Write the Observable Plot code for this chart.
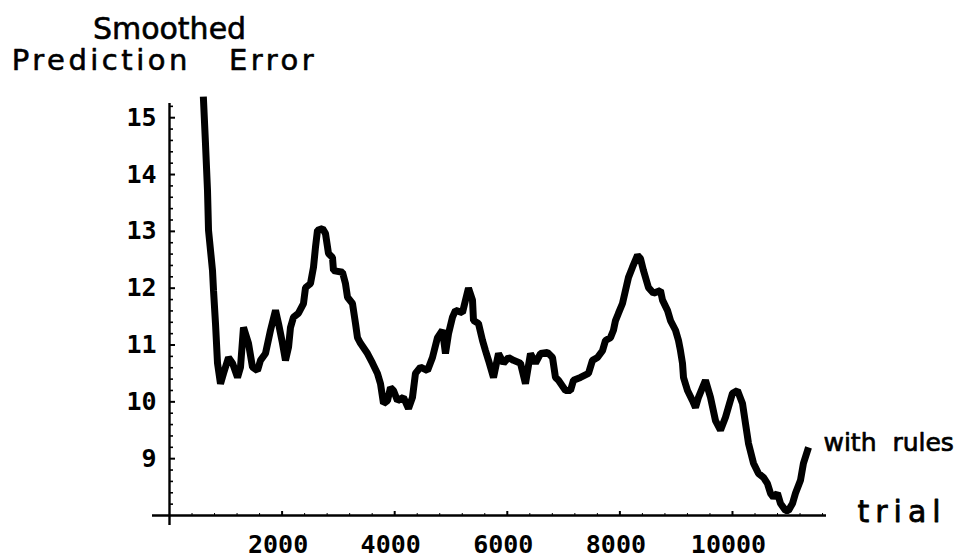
<!DOCTYPE html>
<html>
<head>
<meta charset="utf-8">
<script src="https://cdn.jsdelivr.net/npm/d3@7"></script>
<script src="https://cdn.jsdelivr.net/npm/@observablehq/plot@0.6"></script>
<style>
  html, body { margin: 0; padding: 0; background: #fff; }
  svg text { white-space: pre; }
  .trial-label text { letter-spacing: 6px; }
  .title2 text { letter-spacing: 3.5px; }
</style>
</head>
<body>
<div id="chart"></div>
<script>
// trial numbers and smoothed prediction error
const trials = [604, 639, 675, 693, 764, 782, 817, 853, 906, 959, 1048, 1119, 1208, 1261, 1314, 1403, 1474, 1563, 1616, 1705,
  1794, 1883, 1936, 2007, 2060, 2114, 2149, 2202, 2291, 2380, 2416, 2504, 2558, 2593, 2629, 2718, 2771, 2824, 2895, 2913,
  3073, 3126, 3162, 3250, 3304, 3339, 3393, 3517, 3606, 3694, 3748, 3801, 3872, 3925, 3979, 4050, 4156, 4245, 4316, 4369,
  4458, 4583, 4671, 4760, 4849, 4902, 4956, 5027, 5080, 5204, 5258, 5311, 5382, 5400, 5488, 5560, 5613, 5666, 5755, 5844,
  5933, 6021, 6110, 6234, 6323, 6412, 6501, 6590, 6714, 6803, 6856, 6909, 7034, 7123, 7176, 7300, 7442, 7513, 7602, 7691,
  7744, 7833, 7886, 7922, 7975, 8046, 8099, 8153, 8224, 8313, 8366, 8419, 8508, 8597, 8721, 8757, 8845, 8899, 8988, 9041,
  9076, 9112, 9130, 9201, 9290, 9343, 9396, 9520, 9609, 9698, 9787, 9876, 10000, 10089, 10178, 10231, 10284, 10373, 10462, 10551,
  10622, 10675, 10728, 10799, 10853, 10941, 10995, 11066, 11119, 11208, 11261, 11332];
const errors = [15.31, 14.55, 13.72, 13.02, 12.31, 11.96, 11.38, 10.68, 10.32, 10.50, 10.78, 10.68, 10.43, 10.61, 11.31, 11.03, 10.61, 10.55, 10.73, 10.85,
  11.26, 11.61, 11.38, 11.03, 10.73, 10.96, 11.31, 11.49, 11.56, 11.73, 12.01, 12.08, 12.37, 12.72, 13.02, 13.05, 12.96, 12.61, 12.54, 12.31,
  12.28, 12.08, 11.84, 11.73, 11.38, 11.13, 11.03, 10.85, 10.68, 10.50, 10.32, 9.97, 10.02, 10.25, 10.20, 10.02, 10.08, 9.88, 10.08, 10.50,
  10.61, 10.55, 10.78, 11.13, 11.26, 10.85, 11.20, 11.49, 11.61, 11.57, 11.79, 12.00, 11.79, 11.43, 11.38, 11.08, 10.90, 10.73, 10.43, 10.85,
  10.68, 10.78, 10.73, 10.68, 10.32, 10.85, 10.68, 10.85, 10.87, 10.78, 10.43, 10.38, 10.20, 10.20, 10.38, 10.43, 10.50, 10.73, 10.78, 10.90,
  11.08, 11.13, 11.26, 11.43, 11.56, 11.73, 11.96, 12.19, 12.37, 12.58, 12.52, 12.31, 12.01, 11.91, 11.96, 11.79, 11.61, 11.43, 11.26, 11.08,
  10.90, 10.68, 10.43, 10.20, 10.02, 9.90, 10.08, 10.38, 10.08, 9.67, 9.50, 9.73, 10.15, 10.20, 9.97, 9.62, 9.27, 8.92, 8.74, 8.67,
  8.56, 8.39, 8.32, 8.39, 8.21, 8.09, 8.09, 8.21, 8.39, 8.62, 8.92, 9.14];

const xTicks = [2000, 4000, 6000, 8000, 10000];
const yTicks = [9, 10, 11, 12, 13, 14, 15];
const yMinorTicks = [];
for (let k = 41; k <= 76; k++) { if (k % 5 !== 0) yMinorTicks.push(k / 5); }
const xMinorTicks = [];
for (let k = 1; k <= 29; k++) { if (k % 5 !== 0) xMinorTicks.push(k * 400); }

const titleLine1 = "Smoothed";
const titleLine2 = "Prediction   Error";
const xLabel = "trial";
const seriesLabel = "with  rules";

const data = trials.map((t, i) => ({trial: t, error: errors[i]}));
const last = [data[data.length - 1]];

const chart = Plot.plot({
  width: 959,
  height: 558,
  marginLeft: 169,
  marginRight: 133,
  marginTop: 103,
  marginBottom: 43,
  style: {background: "#fff", color: "#000", overflow: "visible"},
  x: {domain: [0, 11670]},
  y: {domain: [8, 15.25]},
  marks: [
    // axes lines
    Plot.ruleX([0], {stroke: "#000", strokeWidth: 2.4, insetBottom: -10}),
    Plot.ruleY([8], {stroke: "#000", strokeWidth: 2.4, insetLeft: -17}),
    // y ticks (inward)
    Plot.ruleY(yTicks, {x1: 0, x2: 0, insetRight: -6, stroke: "#000", strokeWidth: 2}),
    Plot.ruleY(yMinorTicks, {x1: 0, x2: 0, insetRight: -4, stroke: "#000", strokeWidth: 1.6}),
    // x ticks (inward)
    Plot.ruleX(xTicks, {y1: 8, y2: 8, insetTop: -4, stroke: "#000", strokeWidth: 2}),
    Plot.ruleX(xMinorTicks, {y1: 8, y2: 8, insetTop: -2, stroke: "#000", strokeWidth: 1}),
    Plot.axisY({ticks: yTicks, tickSize: 0, tickPadding: 13, label: null, tickFormat: "d", fontSize: 25, fontWeight: "bold", fontFamily: "DejaVu Sans Mono"}),
    Plot.axisX({ticks: xTicks, tickSize: 0, tickPadding: 20, label: null, tickFormat: "d", fontSize: 25, fontWeight: "bold", fontFamily: "DejaVu Sans Mono", dx: -4}),
    // data
    Plot.line(data, {x: "trial", y: "error", stroke: "#000", strokeWidth: 7, strokeLinejoin: "bevel", strokeLinecap: "square"}),
    // annotations
    Plot.text(last, {x: "trial", y: "error", text: () => seriesLabel, textAnchor: "start", lineAnchor: "middle", dx: 16, dy: -8, fontSize: 25, fontFamily: "DejaVu Sans", fill: "#000", stroke: "#000", strokeWidth: 0.7}),
    Plot.text([xLabel], {frameAnchor: "bottom-right", textAnchor: "start", lineAnchor: "middle", dx: 31, dy: -3, fontSize: 30, fontFamily: "DejaVu Sans", fill: "#000", stroke: "#000", strokeWidth: 0.8, className: "trial-label"}),
    Plot.text([titleLine1], {frameAnchor: "top-left", textAnchor: "middle", lineAnchor: "middle", dx: 0, dy: -74, fontSize: 30, fontFamily: "DejaVu Sans", fill: "#000", stroke: "#000", strokeWidth: 0.6}),
    Plot.text([titleLine2], {frameAnchor: "top-left", textAnchor: "middle", lineAnchor: "middle", dx: -5, dy: -43, fontSize: 29, fontFamily: "DejaVu Sans", fill: "#000", stroke: "#000", strokeWidth: 0.6, className: "title2"})
  ]
});
document.getElementById("chart").appendChild(chart);
</script>
</body>
</html>
